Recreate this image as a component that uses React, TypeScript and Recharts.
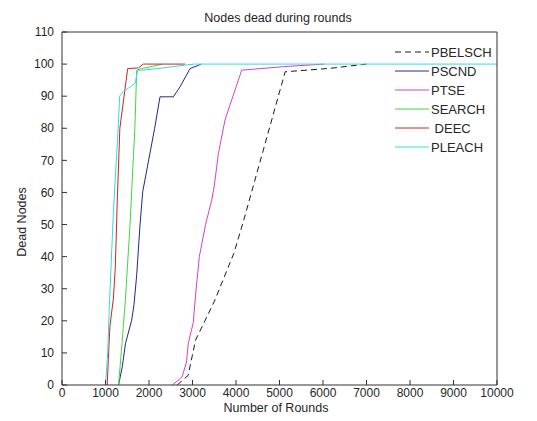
import React from 'react';
import { LineChart, Line, XAxis, YAxis, Legend } from 'recharts';

const xTicks = [0, 1000, 2000, 3000, 4000, 5000, 6000, 7000, 8000, 9000, 10000];
const yTicks = [0, 10, 20, 30, 40, 50, 60, 70, 80, 90, 100, 110];

// rounds / dead nodes
const pbelschRounds = [2650, 2900, 3070, 3500, 3950, 4170, 5130, 6180, 7000];
const pbelschDead = [0, 3, 14, 26, 41, 51, 97.6, 98.7, 100];

const pscndRounds = [1300, 1386, 1460, 1524, 1602, 1655, 1717, 1793, 1855, 2130, 2253, 2559, 2713, 2943, 3096, 3195];
const pscndDead = [0, 5.7, 13, 16.2, 20.2, 25, 34.3, 49.8, 60.2, 80, 89.8, 89.8, 92.9, 98.6, 99.4, 100];

const ptseRounds = [2540, 2760, 2860, 2904, 3018, 3070, 3157, 3300, 3441, 3500, 3594, 3747, 4131, 5090, 6030];
const ptseDead = [0, 2.5, 7, 13, 19.5, 28, 40, 50, 57.6, 62, 72, 82.6, 98.1, 99.2, 100];

const searchRounds = [1300, 1380, 1455, 1563, 1678, 1717, 1832, 2215, 2300];
const searchDead = [0, 13, 26, 49.8, 81, 98.1, 98.6, 99.7, 100];

const deecRounds = [1040, 1065, 1103, 1180, 1225, 1271, 1330, 1510, 1755, 1870, 2830];
const deecDead = [0, 8, 18.5, 26.8, 36.6, 57.6, 80, 98.6, 98.8, 100, 100];

const pleachRounds = [1000, 1050, 1090, 1185, 1295, 1325, 1410, 1680, 1740, 2214, 2830, 3050, 10000];
const pleachDead = [0, 10, 25, 55, 81, 90, 91.4, 94, 98, 98.6, 99.7, 100, 100];

const zip = (xs: number[], ys: number[]) => xs.map((x, i) => ({ x, y: ys[i] }));

const series = [
  { name: 'PBELSCH', data: zip(pbelschRounds, pbelschDead), color: '#1a1a1a', dash: '6 4' },
  { name: 'PSCND', data: zip(pscndRounds, pscndDead), color: '#26268a', dash: undefined },
  { name: 'PTSE', data: zip(ptseRounds, ptseDead), color: '#d23fd2', dash: undefined },
  { name: 'SEARCH', data: zip(searchRounds, searchDead), color: '#3fd83f', dash: undefined },
  { name: ' DEEC', data: zip(deecRounds, deecDead), color: '#d42020', dash: undefined },
  { name: 'PLEACH', data: zip(pleachRounds, pleachDead), color: '#33dcdc', dash: undefined },
];

const FONT = '"Liberation Sans", Arial, sans-serif';
const INK = '#262626';
const AXIS = '#333333';

const BottomTick = (props: any) => {
  const { x, y, payload } = props;
  return (
    <g>
      <line x1={x} x2={x} y1={y} y2={y - 5} stroke={AXIS} />
      <text x={x} y={y + 12} textAnchor="middle" fontSize={12} fontFamily={FONT} fill={INK}>
        {payload.value}
      </text>
    </g>
  );
};

const LeftTick = (props: any) => {
  const { x, y, payload } = props;
  return (
    <g>
      <line x1={x} x2={x + 5} y1={y} y2={y} stroke={AXIS} />
      <text x={x - 8} y={y} dy="0.35em" textAnchor="end" fontSize={12} fontFamily={FONT} fill={INK}>
        {payload.value}
      </text>
    </g>
  );
};

const TopTick = (props: any) => {
  const { x, y } = props;
  return <line x1={x} x2={x} y1={y} y2={y + 5} stroke={AXIS} />;
};

const RightTick = (props: any) => {
  const { x, y } = props;
  return <line x1={x} x2={x - 5} y1={y} y2={y} stroke={AXIS} />;
};

const LegendBox = () => (
  <svg width={130} height={120}>
    {series.map((s, i) => (
      <g key={s.name}>
        <line x1={2} x2={36} y1={10 + i * 19} y2={10 + i * 19} stroke={s.color} strokeDasharray={s.dash} />
        <text
          x={38}
          y={10 + i * 19}
          dy="0.35em"
          fontSize={13}
          fontFamily={FONT}
          fill={INK}
          style={{ whiteSpace: 'pre' }}
        >
          {s.name}
        </text>
      </g>
    ))}
  </svg>
);

export default function App() {
  return (
    <div style={{ position: 'absolute', left: 0, top: 0, width: 537, height: 421, background: '#fff' }}>
      <div
        style={{
          position: 'absolute',
          left: 0,
          width: 556,
          top: 10,
          textAlign: 'center',
          fontFamily: FONT,
          fontSize: 12.5,
          color: INK,
          lineHeight: '16px',
        }}
      >
        Nodes dead during rounds
      </div>
      <LineChart width={537} height={421} margin={{ top: 31, right: 39, bottom: 0, left: 0 }}>
        <XAxis
          xAxisId="bottom"
          type="number"
          dataKey="x"
          domain={[0, 10000]}
          ticks={xTicks}
          interval={0}
          height={36}
          tickSize={0}
          tickMargin={0}
          tickLine={false}
          tick={<BottomTick />}
          axisLine={{ stroke: AXIS }}
          label={() => (
            <text x={276} y={412} textAnchor="middle" fontSize={12.5} fontFamily={FONT} fill={INK}>
              Number of Rounds
            </text>
          )}
        />
        <XAxis
          xAxisId="top"
          orientation="top"
          type="number"
          domain={[0, 10000]}
          ticks={xTicks}
          interval={0}
          height={1}
          tickSize={0}
          tickMargin={0}
          tickLine={false}
          tick={<TopTick />}
          axisLine={{ stroke: AXIS }}
        />
        <YAxis
          yAxisId="left"
          type="number"
          domain={[0, 110]}
          ticks={yTicks}
          interval={0}
          width={62}
          tickSize={0}
          tickMargin={0}
          tickLine={false}
          tick={<LeftTick />}
          axisLine={{ stroke: AXIS }}
          label={() => (
            <text
              x={22}
              y={222}
              transform="rotate(-90 22 222)"
              textAnchor="middle"
              dy="0.35em"
              fontSize={12.5}
              fontFamily={FONT}
              fill={INK}
            >
              Dead Nodes
            </text>
          )}
        />
        <YAxis
          yAxisId="right"
          orientation="right"
          type="number"
          domain={[0, 110]}
          ticks={yTicks}
          interval={0}
          width={1}
          tickSize={0}
          tickMargin={0}
          tickLine={false}
          tick={<RightTick />}
          axisLine={{ stroke: AXIS }}
        />
        <Legend
          layout="horizontal"
          verticalAlign="middle"
          align="center"
          content={<LegendBox />}
          wrapperStyle={{ left: 393, top: 42, width: 130, height: 120 }}
        />
        {series.map((s) => (
          <Line
            key={s.name}
            xAxisId="bottom"
            yAxisId="left"
            data={s.data}
            dataKey="y"
            name={s.name}
            type="linear"
            stroke={s.color}
            strokeWidth={1}
            strokeDasharray={s.dash}
            dot={false}
            activeDot={false}
            isAnimationActive={false}
          />
        ))}
      </LineChart>
    </div>
  );
}
